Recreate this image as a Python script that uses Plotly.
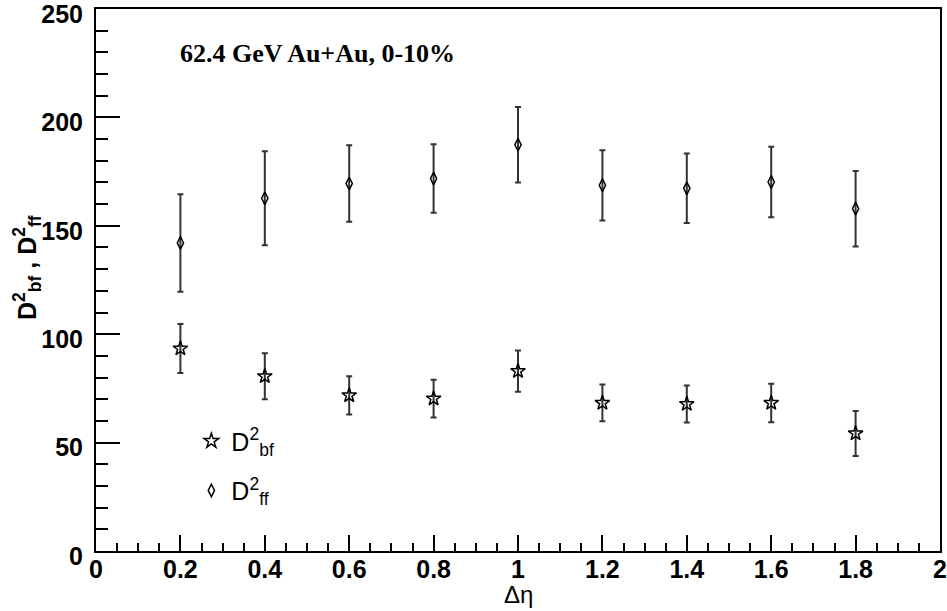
import plotly.graph_objects as go

# Data
delta_eta = [0.2, 0.4, 0.6, 0.8, 1.0, 1.2, 1.4, 1.6, 1.8]
d2_ff = [142.1, 162.7, 169.5, 171.8, 187.4, 168.7, 167.3, 170.2, 157.9]
d2_ff_err = [22.5, 21.7, 17.6, 15.8, 17.4, 16.2, 16.0, 16.3, 17.4]
d2_bf = [93.4, 80.6, 71.8, 70.3, 83.0, 68.3, 67.8, 68.3, 54.2]
d2_bf_err = [11.3, 10.6, 8.8, 8.7, 9.5, 8.5, 8.5, 8.9, 10.4]

label_text = "62.4 GeV Au+Au, 0-10%"
x_title = "Δη"
y_title = "D<sup>2</sup><sub>bf</sub> , D<sup>2</sup><sub>ff</sub>"
name_bf = "D<sup>2</sup><sub>bf</sub>"
name_ff = "D<sup>2</sup><sub>ff</sub>"

L, R, T, B = 96, 7, 9, 60
W, H = 947, 611
PW, PH = W - L - R, H - T - B

fig = go.Figure()

err_style = dict(type="data", symmetric=True, color="#333333", thickness=2, width=3)

fig.add_trace(go.Scatter(
    x=delta_eta, y=d2_bf, mode="markers", name=name_bf,
    legendgroup="bf",
    error_y=dict(array=d2_bf_err, **err_style),
    marker=dict(symbol="star-open", size=11, color="black", line=dict(width=1.5, color="black")),
))
fig.add_trace(go.Scatter(
    x=delta_eta, y=d2_ff, mode="markers", name=name_ff,
    legendgroup="ff",
    error_y=dict(array=d2_ff_err, **err_style),
    marker=dict(symbol="diamond-tall-open", size=9, color="black", line=dict(width=1.5, color="black")),
))

tick_font = dict(family="Liberation Sans", size=25, color="black", weight="bold")

fig.update_layout(
    width=W, height=H,
    margin=dict(l=L, r=R, t=T, b=B, autoexpand=False),
    paper_bgcolor="white", plot_bgcolor="white",
    showlegend=True,
    legend=dict(
        x=0.113, y=0.245, xanchor="left", yanchor="top",
        bgcolor="rgba(0,0,0,0)", borderwidth=0,
        font=dict(family="Liberation Sans", size=25, color="black"),
        tracegroupgap=14,
    ),
    xaxis=dict(
        range=[0, 2], showgrid=False, zeroline=False, automargin=False,
        showline=True, linecolor="black", linewidth=2, mirror=True,
        ticks="inside", ticklen=16, tickwidth=1.5, tickcolor="black",
        tick0=0, dtick=0.2, tickfont=tick_font, ticklabeloverflow="allow",
        minor=dict(ticks="inside", ticklen=8, tickwidth=1.5, tickcolor="black", dtick=0.05, showgrid=False),
        ticklabelstandoff=-5,
    ),
    yaxis=dict(
        range=[0, 250], showgrid=False, zeroline=False, automargin=False,
        showline=True, linecolor="black", linewidth=2, mirror=True,
        ticks="inside", ticklen=24, tickwidth=1.5, tickcolor="black",
        tick0=0, dtick=50, tickfont=tick_font, ticklabeloverflow="allow",
        minor=dict(ticks="inside", ticklen=12, tickwidth=1.5, tickcolor="black", dtick=10, showgrid=False),
        ticklabelstandoff=6, ticklabelshift=5,
    ),
    annotations=[
        dict(
            text="<b>" + label_text + "</b>", xref="paper", yref="paper",
            x=(178 - L) / PW, y=(H - B - 53) / PH, xanchor="left", yanchor="middle",
            showarrow=False, font=dict(family="Liberation Serif", size=26, color="black"),
        ),
        dict(
            text=x_title, xref="paper", yref="paper",
            x=0.5, y=(H - B - 594) / PH, xanchor="center", yanchor="middle",
            showarrow=False, font=dict(family="Liberation Sans", size=24, color="black"),
        ),
        dict(
            text="<b>" + y_title + "</b>", xref="paper", yref="paper", textangle=-90,
            x=(27 - L) / PW, y=(H - B - 268) / PH, xanchor="center", yanchor="middle",
            showarrow=False, font=dict(family="Liberation Sans", size=25, color="black"),
        ),
    ],
)

fig.write_html("out.html")
